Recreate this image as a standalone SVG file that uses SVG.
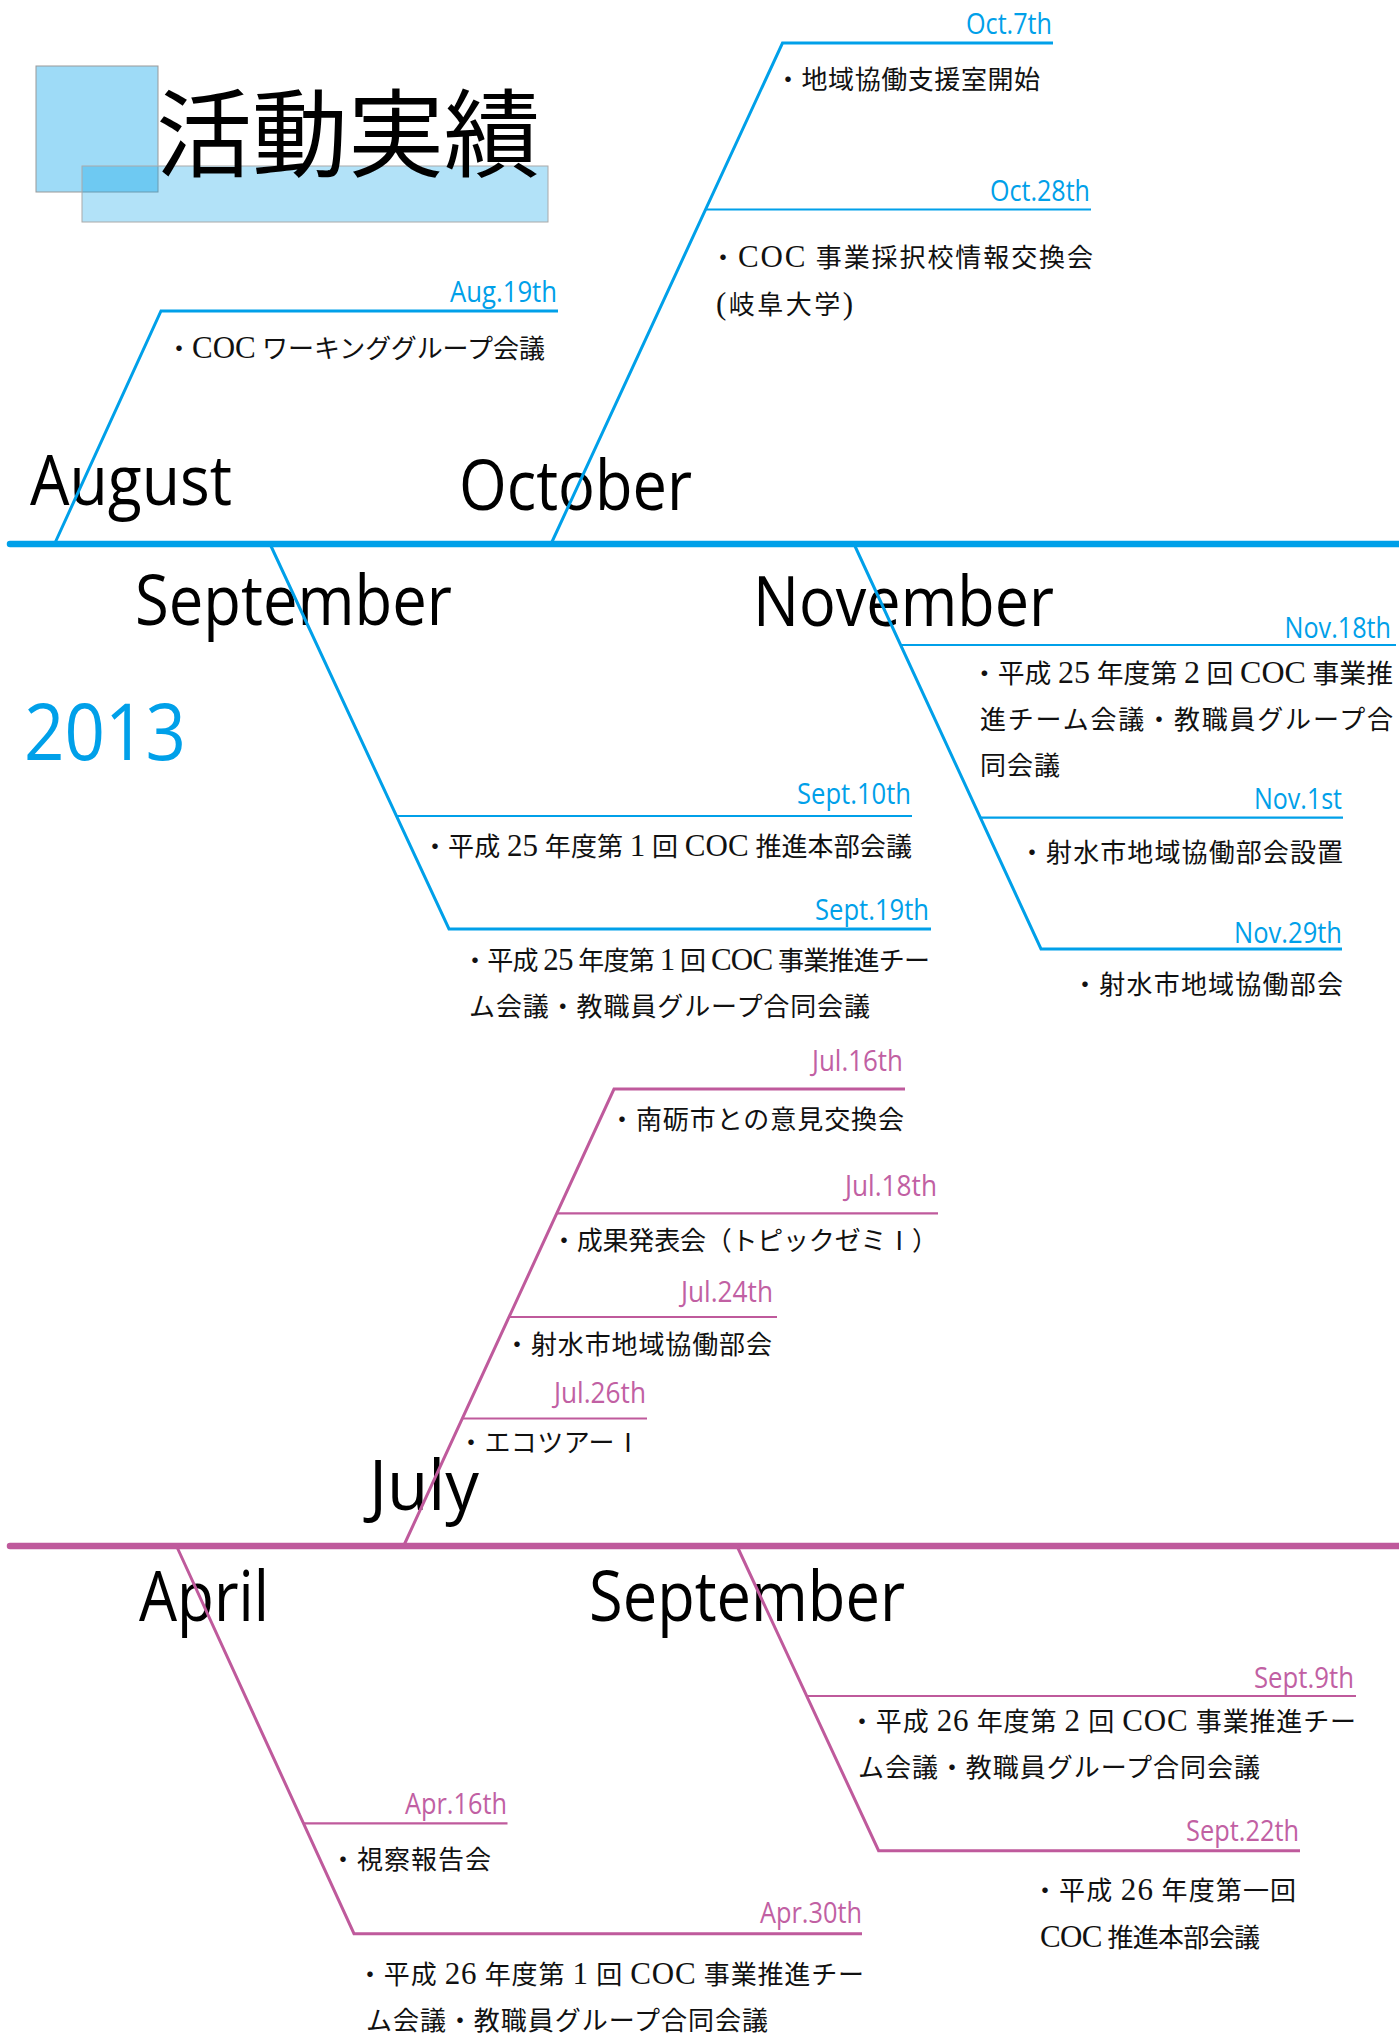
<svg xmlns="http://www.w3.org/2000/svg" width="1399" height="2035" viewBox="0 0 1399 2035">
<style>
.bg{fill:#ffffff}
.month{font-family:"Open Sans","Noto Sans",sans-serif;font-size:69px;fill:#000}
.dateB{font-family:"Open Sans","Noto Sans",sans-serif;font-size:30px;fill:#00a0e9;text-anchor:end}
.dateP{font-family:"Open Sans","Noto Sans",sans-serif;font-size:30px;fill:#c160a3;text-anchor:end}
.ev{font-family:"Liberation Serif","Noto Sans CJK JP",serif;font-size:26px;fill:#111}
.lat{font-size:31px}
.title{font-family:"Noto Sans CJK JP",sans-serif;font-size:96px;fill:#000}
.year{font-family:"Open Sans","Noto Sans",sans-serif;font-size:79px;fill:#00a0e9}
.mainB{stroke:#00a0e9;stroke-width:6.5;stroke-linecap:round;fill:none}
.mainP{stroke:#bf5a9c;stroke-width:6.5;stroke-linecap:round;fill:none}
.diagB{stroke:#00a0e9;stroke-width:3;fill:none}
.diagP{stroke:#bf5a9c;stroke-width:3;fill:none}
.hB{stroke:#00a0e9;stroke-width:2.2;fill:none}
.hP{stroke:#bf5a9c;stroke-width:2.2;fill:none}
</style>
<rect class="bg" x="0" y="0" width="1399" height="2035"/>

<g id="title">
<rect x="36" y="66" width="122" height="126" fill="#00a0e9" fill-opacity="0.38" stroke="#999" stroke-width="1"/>
<rect x="82" y="166" width="466" height="56" fill="#00a0e9" fill-opacity="0.30" stroke="#aaa" stroke-width="1"/>
<text class="title" x="156" y="169" textLength="384">活動実績</text>
</g>

<g id="year-2013"><text class="year" x="24" y="760" textLength="162" lengthAdjust="spacingAndGlyphs">2013</text></g>

<g id="month-august"><text class="month" x="30" y="505" textLength="202" lengthAdjust="spacingAndGlyphs">August</text></g>
<g id="month-october"><text class="month" x="459" y="510" textLength="233" lengthAdjust="spacingAndGlyphs">October</text></g>
<g id="month-september-2013"><text class="month" x="135" y="625" textLength="317" lengthAdjust="spacingAndGlyphs">September</text></g>
<g id="month-november"><text class="month" x="753" y="626" textLength="301" lengthAdjust="spacingAndGlyphs">November</text></g>
<g id="month-july"><text class="month" x="369" y="1510" textLength="110" lengthAdjust="spacingAndGlyphs">July</text></g>
<g id="month-april"><text class="month" x="139" y="1621" textLength="130" lengthAdjust="spacingAndGlyphs">April</text></g>
<g id="month-september-2014"><text class="month" x="589" y="1621" textLength="316" lengthAdjust="spacingAndGlyphs">September</text></g>

<g id="ev-aug19">
<text class="dateB" x="557" y="302" textLength="107" lengthAdjust="spacingAndGlyphs">Aug.19th</text>
<text class="ev" x="166" y="358" textLength="379">・<tspan class="lat">COC</tspan> ワーキンググループ会議</text>
</g>
<g id="ev-oct7">
<text class="dateB" x="1052" y="34" textLength="86" lengthAdjust="spacingAndGlyphs">Oct.7th</text>
<text class="ev" x="775" y="89" textLength="265">・地域協働支援室開始</text>
</g>
<g id="ev-oct28">
<text class="dateB" x="1090" y="201" textLength="100" lengthAdjust="spacingAndGlyphs">Oct.28th</text>
<text class="ev" x="710" y="267" textLength="383">・<tspan class="lat">COC</tspan> 事業採択校情報交換会</text>
<text class="ev" x="716" y="314" textLength="137"><tspan class="lat">(</tspan>岐阜大学<tspan class="lat">)</tspan></text>
</g>
<g id="ev-sept10">
<text class="dateB" x="911" y="804" textLength="114" lengthAdjust="spacingAndGlyphs">Sept.10th</text>
<text class="ev" x="422" y="856" textLength="490">・平成 <tspan class="lat">25</tspan> 年度第 <tspan class="lat">1</tspan> 回 <tspan class="lat">COC</tspan> 推進本部会議</text>
</g>
<g id="ev-sept19">
<text class="dateB" x="929" y="920" textLength="114" lengthAdjust="spacingAndGlyphs">Sept.19th</text>
<text class="ev" x="462" y="970" textLength="468">・平成 <tspan class="lat">25</tspan> 年度第 <tspan class="lat">1</tspan> 回 <tspan class="lat">COC</tspan> 事業推進チー</text>
<text class="ev" x="469" y="1016" textLength="401">ム会議・教職員グループ合同会議</text>
</g>
<g id="ev-nov18">
<text class="dateB" transform="translate(1391 638) scale(0.84 1)" x="0" y="0">Nov.18th</text>
<text class="ev" x="971" y="683" textLength="422" lengthAdjust="spacingAndGlyphs">・平成 <tspan class="lat">25</tspan> 年度第 <tspan class="lat">2</tspan> 回 <tspan class="lat">COC</tspan> 事業推</text>
<text class="ev" x="980" y="729" textLength="413">進チーム会議・教職員グループ合</text>
<text class="ev" x="980" y="775" textLength="80">同会議</text>
</g>
<g id="ev-nov1">
<text class="dateB" x="1342" y="809" textLength="88" lengthAdjust="spacingAndGlyphs">Nov.1st</text>
<text class="ev" x="1019" y="862" textLength="324">・射水市地域協働部会設置</text>
</g>
<g id="ev-nov29">
<text class="dateB" x="1342" y="943" textLength="108" lengthAdjust="spacingAndGlyphs">Nov.29th</text>
<text class="ev" x="1072" y="994" textLength="271">・射水市地域協働部会</text>
</g>

<g id="ev-jul16">
<text class="dateP" x="903" y="1071" textLength="91" lengthAdjust="spacingAndGlyphs">Jul.16th</text>
<text class="ev" x="609" y="1129" textLength="295">・南砺市との意見交換会</text>
</g>
<g id="ev-jul18">
<text class="dateP" x="937" y="1196" textLength="92" lengthAdjust="spacingAndGlyphs">Jul.18th</text>
<text class="ev" x="551" y="1250" textLength="387">・成果発表会（トピックゼミⅠ）</text>
</g>
<g id="ev-jul24">
<text class="dateP" x="773" y="1302" textLength="92" lengthAdjust="spacingAndGlyphs">Jul.24th</text>
<text class="ev" x="504" y="1354" textLength="268">・射水市地域協働部会</text>
</g>
<g id="ev-jul26">
<text class="dateP" x="646" y="1403" textLength="92" lengthAdjust="spacingAndGlyphs">Jul.26th</text>
<text class="ev" x="458" y="1452" textLength="183">・エコツアーⅠ</text>
</g>
<g id="ev-apr16">
<text class="dateP" x="507" y="1814" textLength="102" lengthAdjust="spacingAndGlyphs">Apr.16th</text>
<text class="ev" x="330" y="1869" textLength="161">・視察報告会</text>
</g>
<g id="ev-apr30">
<text class="dateP" x="862" y="1923" textLength="102" lengthAdjust="spacingAndGlyphs">Apr.30th</text>
<text class="ev" x="357" y="1984" textLength="507">・平成 <tspan class="lat">26</tspan> 年度第 <tspan class="lat">1</tspan> 回 <tspan class="lat">COC</tspan> 事業推進チー</text>
<text class="ev" x="366" y="2030" textLength="402">ム会議・教職員グループ合同会議</text>
</g>
<g id="ev-sept9">
<text class="dateP" x="1354" y="1688" textLength="100" lengthAdjust="spacingAndGlyphs">Sept.9th</text>
<text class="ev" x="849" y="1731" textLength="507">・平成 <tspan class="lat">26</tspan> 年度第 <tspan class="lat">2</tspan> 回 <tspan class="lat">COC</tspan> 事業推進チー</text>
<text class="ev" x="858" y="1777" textLength="402">ム会議・教職員グループ合同会議</text>
</g>
<g id="ev-sept22">
<text class="dateP" x="1299" y="1841" textLength="113" lengthAdjust="spacingAndGlyphs">Sept.22th</text>
<text class="ev" x="1032" y="1900" textLength="264">・平成 <tspan class="lat">26</tspan> 年度第一回</text>
<text class="ev" x="1040" y="1947" textLength="220"><tspan class="lat">COC</tspan> 推進本部会議</text>
</g>

<g id="connectors">
<line class="mainB" x1="10" y1="544" x2="1399" y2="544"/>
<polyline class="diagB" points="54.5,544 161,311 558,311"/>
<polyline class="diagB" points="551,544 782.5,43 1053,43"/>
<line class="hB" x1="705.5" y1="209.5" x2="1091" y2="209.5"/>
<polyline class="diagB" points="270,544 449,929 931,929"/>
<line class="hB" x1="396.5" y1="816" x2="912" y2="816"/>
<polyline class="diagB" points="854,544 1041,949 1342,949"/>
<line class="hB" x1="900.6" y1="645" x2="1396" y2="645"/>
<line class="hB" x1="980" y1="817.6" x2="1343" y2="817.6"/>

<line class="mainP" x1="10" y1="1546" x2="1399" y2="1546"/>
<polyline class="diagP" points="403.6,1546 614,1089 905,1089"/>
<line class="hP" x1="556.7" y1="1213.4" x2="938" y2="1213.4"/>
<line class="hP" x1="509" y1="1317" x2="777" y2="1317"/>
<line class="hP" x1="462" y1="1418.5" x2="647" y2="1418.5"/>
<polyline class="diagP" points="176.5,1546 354,1933.7 862,1933.7"/>
<line class="hP" x1="303.5" y1="1823.4" x2="507.5" y2="1823.4"/>
<polyline class="diagP" points="737,1546 878.6,1850.7 1300,1850.7"/>
<line class="hP" x1="806.7" y1="1696" x2="1356" y2="1696"/>
</g>
</svg>
